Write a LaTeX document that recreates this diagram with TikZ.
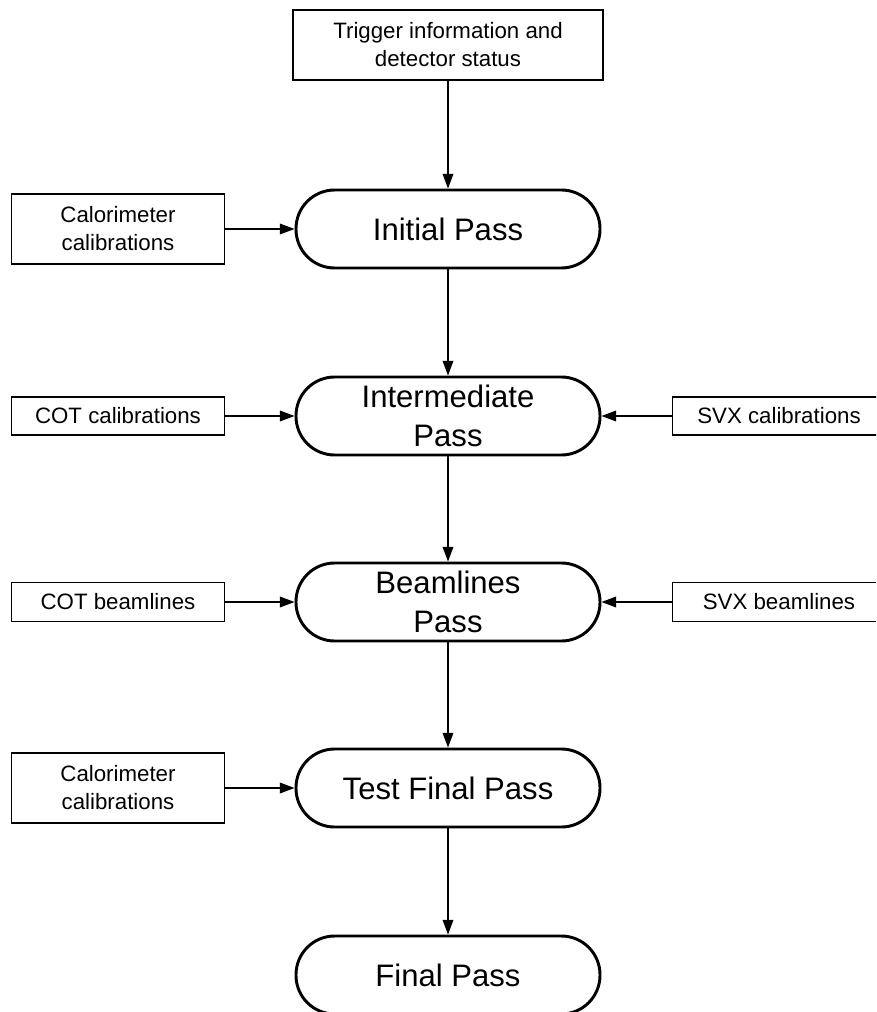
\documentclass[tikz,border=0pt]{standalone}
\usepackage{fontspec}
\setmainfont{Liberation Sans}
\usetikzlibrary{arrows.meta}
\begin{document}
\begin{tikzpicture}[x=0.75pt,y=-0.75pt,
  sidebox/.style={draw,line width=1.1pt,inner sep=0pt,align=center,
    font=\fontsize{16.7}{21}\selectfont,minimum width=160pt},
  passnode/.style={draw,line width=2.2pt,rounded corners=29pt,
    minimum width=228pt,minimum height=58.5pt,inner sep=0pt,align=center,
    font=\fontsize{23.3}{29}\selectfont},
  flow/.style={-{Triangle[length=11pt,width=8pt]},line width=1pt}]
\clip (0,0) rectangle (876,1012);
\node[sidebox,minimum width=232.5pt,minimum height=52.5pt] (trig) at (448,45) {Trigger information and\\detector status};
\node[passnode] (init) at (448,229) {Initial Pass};
\node[sidebox,minimum height=52.5pt] (cal1) at (118,229) {Calorimeter\\calibrations};
\node[passnode] (inter) at (448,416) {Intermediate\\Pass};
\node[sidebox,minimum height=28.5pt] (cotc) at (118,416) {COT calibrations};
\node[sidebox,minimum height=28.5pt] (svxc) at (779,416) {SVX calibrations};
\node[passnode] (bml) at (448,602) {Beamlines\\Pass};
\node[sidebox,minimum height=29pt] (cotb) at (118,602) {COT beamlines};
\node[sidebox,minimum height=29pt] (svxb) at (779,602) {SVX beamlines};
\node[passnode] (test) at (448,788) {Test Final Pass};
\node[sidebox,minimum height=52.5pt] (cal2) at (118,788) {Calorimeter\\calibrations};
\node[passnode] (final) at (448,975) {Final Pass};
\draw[flow] (trig) -- (init);
\draw[flow] (cal1) -- (init);
\draw[flow] (init) -- (inter);
\draw[flow] (cotc) -- (inter);
\draw[flow] (svxc) -- (inter);
\draw[flow] (inter) -- (bml);
\draw[flow] (cotb) -- (bml);
\draw[flow] (svxb) -- (bml);
\draw[flow] (bml) -- (test);
\draw[flow] (cal2) -- (test);
\draw[flow] (test) -- (final);
\end{tikzpicture}
\end{document}
